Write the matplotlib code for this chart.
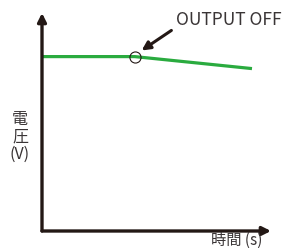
import matplotlib
matplotlib.use("Agg")
import matplotlib.pyplot as plt

plt.rcParams['font.family'] = ['Noto Sans CJK JP', 'DejaVu Sans']

time_s = [0.0, 4.05, 9.17]
voltage = [8.0, 8.0, 7.45]
off_time = 4.05
off_voltage = 8.0
annotation = "OUTPUT OFF"
xlabel = "時間 (s)"
ylabel = "電\n圧\n(V)"

W, H = 288, 248
fig = plt.figure(figsize=(W / 100, H / 100), dpi=100)
left, right, top, bottom = 42, 271, 13, 231
ax = fig.add_axes([left / W, 1 - bottom / H, (right - left) / W, (bottom - top) / H])
ax.set_xlim(0, 10)
ax.set_ylim(0, 10)
for s in ax.spines.values():
    s.set_visible(False)
ax.set_xticks([])
ax.set_yticks([])
ax.patch.set_alpha(0)

axis_col = '#231815'
ax.annotate('', xy=(1.0, 0), xytext=(0, 0), xycoords='axes fraction',
            arrowprops=dict(arrowstyle='-|>,head_length=0.5,head_width=0.25', lw=2.4,
                            color=axis_col, shrinkA=0, shrinkB=0), annotation_clip=False)
ax.annotate('', xy=(0, 1.0), xytext=(0, 0), xycoords='axes fraction',
            arrowprops=dict(arrowstyle='-|>,head_length=0.5,head_width=0.25', lw=2.4,
                            color=axis_col, shrinkA=0, shrinkB=0), annotation_clip=False)

ax.plot(time_s, voltage, color='#2aab3f', lw=2.3, solid_capstyle='butt', clip_on=False)
ax.plot([off_time], [off_voltage], marker='o', ms=8, mfc='none', mec='#231815', mew=0.8,
        clip_on=False)

ax.annotate('', xy=(off_time + 0.3, off_voltage + 0.28), xytext=(5.65, 9.2),
            arrowprops=dict(arrowstyle='-|>,head_length=0.5,head_width=0.25', lw=2.2,
                            color='#231815', shrinkA=0, shrinkB=0), annotation_clip=False)

fig.text(229 / W, 1 - 20 / H, annotation, ha='center', va='center', fontsize=12.5,
         color='#3a3536')
fig.text(20 / W, 1 - 137 / H, ylabel, ha='center', va='center', fontsize=11.5,
         color='#3a3536', linespacing=1.0)
fig.text(237 / W, 1 - 240 / H, xlabel, ha='center', va='center', fontsize=11,
         color='#3a3536')

fig.savefig('out.png', dpi=100)
